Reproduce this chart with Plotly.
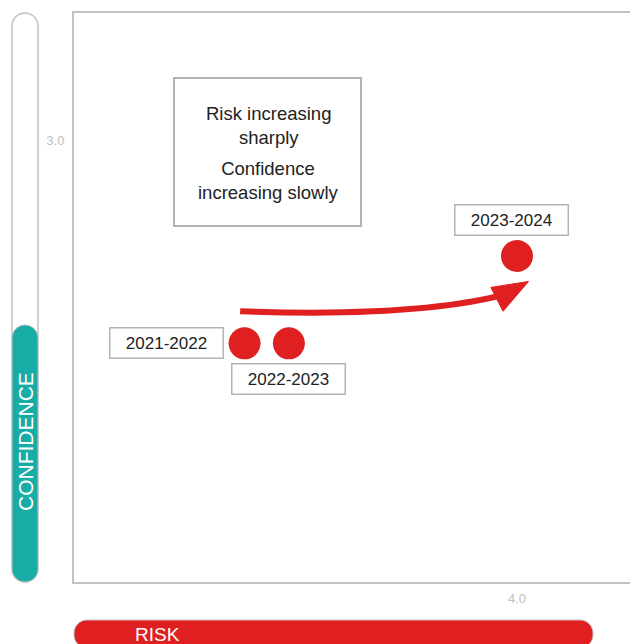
import plotly.graph_objects as go

# Risk / confidence scores per period
periods = ["2021-2022", "2022-2023", "2023-2024"]
risk = [2.77, 2.97, 4.0]
confidence = [2.08, 2.08, 2.475]

x_ticks = [4.0]
y_ticks = [3.0]
note_risk = "Risk increasing<br>sharply"
note_conf = "Confidence<br>increasing slowly"

RED = "#e02020"
TEAL = "#17aca6"
GREY = "#c2c2c2"
TEXT = "#222222"
FONT = "Liberation Sans"

W, H = 630, 644
ML, MT, MR, MB = 74, 13, 0, 62
PL, PT, PR, PB = ML, MT, W - MR, H - MB


def fx(x):
    return (x - PL) / (PR - PL)


def fy(y):
    return (PB - y) / (PB - PT)


def pill(x0, y0, x1, y1, r):
    """Rounded rectangle path given in pixel coordinates, emitted in paper units."""
    k = 0.5523 * r
    pts = [
        ("M", [(x0 + r, y0)]),
        ("L", [(x1 - r, y0)]),
        ("C", [(x1 - r + k, y0), (x1, y0 + r - k), (x1, y0 + r)]),
        ("L", [(x1, y1 - r)]),
        ("C", [(x1, y1 - r + k), (x1 - r + k, y1), (x1 - r, y1)]),
        ("L", [(x0 + r, y1)]),
        ("C", [(x0 + r - k, y1), (x0, y1 - r + k), (x0, y1 - r)]),
        ("L", [(x0, y0 + r)]),
        ("C", [(x0, y0 + r - k), (x0 + r - k, y0), (x0 + r, y0)]),
    ]
    s = ""
    for cmd, ps in pts:
        s += cmd + " " + " ".join(f"{fx(a):.5f},{fy(b):.5f}" for a, b in ps) + " "
    return s + "Z"


fig = go.Figure()

fig.add_trace(go.Scatter(
    x=risk, y=confidence, mode="markers",
    marker=dict(size=32, color=RED, line=dict(width=0)),
    hoverinfo="skip", showlegend=False,
))

shapes = []
# confidence gauge
shapes.append(dict(type="path", xref="paper", yref="paper",
                   path=pill(12, 13, 38, 582, 13),
                   line=dict(color=GREY, width=1.5), fillcolor="white", layer="above"))
shapes.append(dict(type="path", xref="paper", yref="paper",
                   path=pill(12, 325, 38, 582, 13),
                   line=dict(color=GREY, width=1), fillcolor=TEAL, layer="above"))
# risk gauge
shapes.append(dict(type="path", xref="paper", yref="paper",
                   path=pill(74, 620, 593, 648, 13),
                   line=dict(color=GREY, width=1), fillcolor=RED, layer="above"))
# note box
shapes.append(dict(type="rect", xref="paper", yref="paper",
                   x0=fx(174), x1=fx(361), y0=fy(226), y1=fy(78),
                   line=dict(color="#b4b4b4", width=2), fillcolor="rgba(0,0,0,0)"))

# trend arrow from the first period towards the latest one
ax0, ay0 = risk[0] - 0.02, confidence[0] + 0.145
ax1, ay1 = risk[2] - 0.02, confidence[2] - 0.165
cx, cy = risk[0] + 0.81, confidence[0] + 0.115
shapes.append(dict(type="path", xref="x", yref="y",
                   path=f"M {ax0},{ay0} Q {cx},{cy} {ax1},{ay1}",
                   line=dict(color=RED, width=6)))
tip = (risk[2] + 0.052, confidence[2] - 0.115)
b1 = (risk[2] - 0.118, confidence[2] - 0.142)
b2 = (risk[2] - 0.063, confidence[2] - 0.25)
shapes.append(dict(type="path", xref="x", yref="y",
                   path=f"M {tip[0]},{tip[1]} L {b1[0]},{b1[1]} L {b2[0]},{b2[1]} Z",
                   line=dict(color=RED, width=1), fillcolor=RED))

annotations = []
# period labels
label_offsets = [(-21, 0, "right"), (0, -35.5, "center"), (-5.5, 36, "center")]
for name, xv, yv, (dx, dy, anchor) in zip(periods, risk, confidence, label_offsets):
    annotations.append(dict(
        x=xv, y=yv, xref="x", yref="y", text=name, showarrow=False,
        xanchor=anchor, yanchor="middle", xshift=dx, yshift=dy,
        width=110, height=27, borderpad=1, bordercolor="#b4b4b4", borderwidth=1.5,
        bgcolor="white", font=dict(family=FONT, size=17, color=TEXT)))

for txt, yc in [(note_risk, 125), (note_conf, 180)]:
    annotations.append(dict(
        x=fx(268), y=fy(yc), xref="paper", yref="paper", text=txt, showarrow=False,
        xanchor="center", yanchor="middle", align="center",
        font=dict(family=FONT, size=18.5, color=TEXT)))

annotations.append(dict(
    x=fx(25), y=fy(442), xref="paper", yref="paper", text="CONFIDENCE",
    showarrow=False, textangle=-90, xanchor="center", yanchor="middle",
    font=dict(family=FONT, size=21, color="white")))
annotations.append(dict(
    x=fx(133), y=fy(634), xref="paper", yref="paper", text="RISK",
    showarrow=False, xanchor="left", yanchor="middle",
    font=dict(family=FONT, size=19, color="white")))

fig.update_layout(
    width=W, height=H,
    margin=dict(l=ML, r=MR, t=MT, b=MB, pad=0),
    paper_bgcolor="white", plot_bgcolor="white",
    shapes=shapes, annotations=annotations,
    xaxis=dict(range=[2.0, 2.0 + (PR - PL) / 221.5], showgrid=False, zeroline=False,
               showline=True, mirror=True, linecolor=GREY, linewidth=2,
               tickvals=x_ticks, ticktext=[f"{v:.1f}" for v in x_ticks],
               ticks="outside", ticklen=3, tickcolor="rgba(0,0,0,0)",
               tickfont=dict(family=FONT, size=13, color="#c0c0c0")),
    yaxis=dict(range=[1.0, 1.0 + (PB - PT) / 221.0], showgrid=False, zeroline=False,
               showline=True, mirror=False, linecolor=GREY, linewidth=2,
               tickvals=y_ticks, ticktext=[f"{v:.1f}" for v in y_ticks],
               ticks="outside", ticklen=5, tickcolor="rgba(0,0,0,0)",
               tickfont=dict(family=FONT, size=13, color="#c0c0c0")),
    hovermode=False,
)

fig.write_html("out.html")
